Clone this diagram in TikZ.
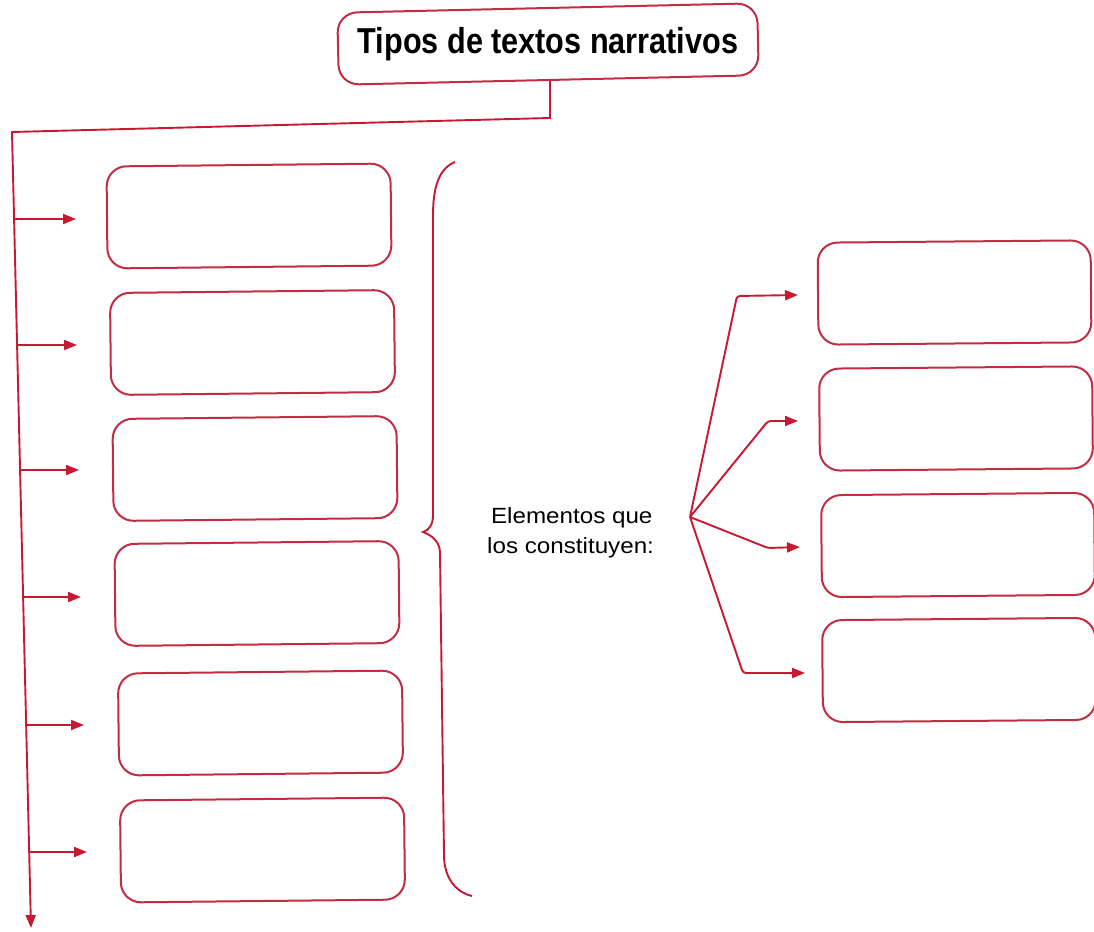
\documentclass[tikz,border=0pt]{standalone}
\usepackage{fontspec}
\setmainfont{Liberation Sans}
\usetikzlibrary{arrows.meta}
\definecolor{boxred}{RGB}{195,45,65}
\definecolor{arrred}{RGB}{200,25,50}
\begin{document}
\begin{tikzpicture}[x=1pt,y=-1pt,
  box/.style={draw=boxred, line width=2pt, rounded corners=20pt, minimum width=284pt, minimum height=102pt, inner sep=0pt},
  rbox/.style={box, minimum width=273pt},
  link/.style={draw=arrred, line width=1.9pt},
  arr/.style={link, -{Triangle[length=13pt,width=10pt]}}]
\useasboundingbox (0,0) rectangle (1094,931);
\fill[white] (0,0) rectangle (1094,931);
% title
\node[box, minimum width=420pt, minimum height=72pt, rotate=1.3] (title) at (548,44)
  {\rotatebox{-1.3}{\scalebox{0.85}[1]{\fontsize{36}{42}\selectfont\bfseries Tipos de textos narrativos}}};
% left boxes
\node[box, rotate=0.6] (l1) at (249,216) {};
\node[box, rotate=0.6] (l2) at (252.5,342.5) {};
\node[box, rotate=0.6] (l3) at (255,468.5) {};
\node[box, rotate=0.6] (l4) at (257,593.5) {};
\node[box, rotate=0.6] (l5) at (260.5,723) {};
\node[box, rotate=0.6] (l6) at (262.5,850) {};
% right boxes
\node[rbox, rotate=0.5] (r1) at (954.5,292.5) {};
\node[rbox, rotate=0.5] (r2) at (956,418.5) {};
\node[rbox, rotate=0.5] (r3) at (958,545) {};
\node[rbox, rotate=0.5] (r4) at (959,670) {};
% trunk
\coordinate (tj) at (550,118);
\coordinate (tc) at (12,132);
\coordinate (tend) at (31,928);
\draw[arr] (tj |- title.south) -- (tj) -- (tc) -- (tend);
% branch arrows
\coordinate (s1) at (14,219); \coordinate (e1) at (76,219);
\coordinate (s2) at (17,345); \coordinate (e2) at (77,345);
\coordinate (s3) at (20,470); \coordinate (e3) at (79,470);
\coordinate (s4) at (23,597); \coordinate (e4) at (81,597);
\coordinate (s5) at (26,725); \coordinate (e5) at (84,725);
\coordinate (s6) at (29,852); \coordinate (e6) at (87,852);
\foreach \i in {1,...,6} {\draw[arr] (s\i) -- (e\i);}
% brace
\draw[link] (455,162) .. controls (440,168) and (433,185) .. (433,215)
  -- (433,515) .. controls (433,525) and (429,530) .. (423,532)
  .. controls (431,535) and (440,541) .. (440,553)
  -- (444,855) .. controls (444,880) and (458,893) .. (472,896);
% text
\node[anchor=base west, inner sep=0pt] (elem) at (487,523)
  {\scalebox{1.1}[1]{\fontsize{22}{30}\selectfont\begin{tabular}[t]{@{}l@{}}\hspace*{3.5pt}Elementos que\\los constituyen:\end{tabular}}};
% fan
\coordinate (fan) at (690,517);
\coordinate (c1) at (737,296); \coordinate (f1) at (798,295);
\coordinate (c2) at (768,421); \coordinate (f2) at (798,421);
\coordinate (c3) at (768,548); \coordinate (f3) at (800,547);
\coordinate (c4) at (743,673); \coordinate (f4) at (805,673);
\foreach \i in {1,...,4} {\draw[arr, rounded corners=3pt] (fan) -- (c\i) -- (f\i);}
\end{tikzpicture}
\end{document}
